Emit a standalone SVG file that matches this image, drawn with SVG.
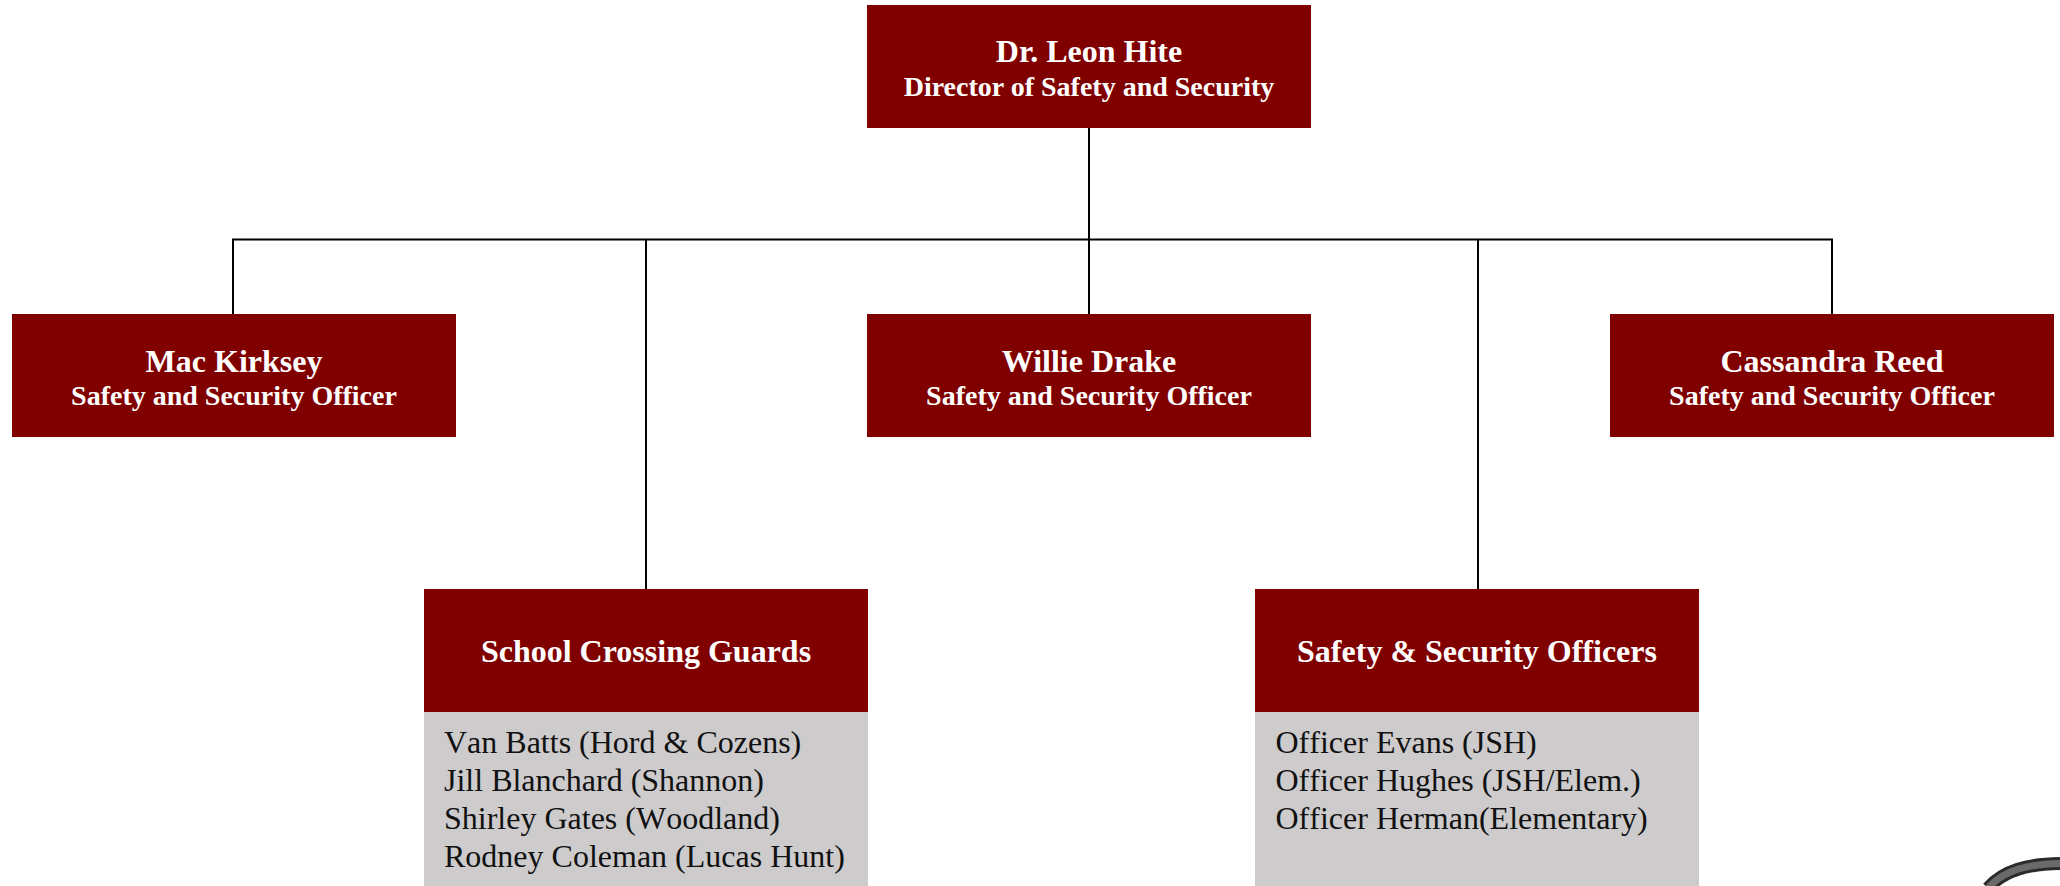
<svg xmlns="http://www.w3.org/2000/svg" width="2060" height="886" viewBox="0 0 2060 886">
<style>
text{font-family:"Liberation Serif","Times New Roman",serif}
.b{fill:#800000}
.g{fill:#cdcbcc}
.n{font-size:32px;font-weight:bold;fill:#fff;text-anchor:middle}
.r{font-size:28px;font-weight:bold;fill:#fff;text-anchor:middle}
.h{font-size:32px;font-weight:bold;fill:#fff;text-anchor:middle}
.l{font-size:32px;fill:#111;font-kerning:none}
.c{stroke:#000;stroke-width:2;fill:none}
</style>
<rect width="2060" height="886" fill="#fff"/>
<g id="connectors">
<path class="c" d="M1089 128V314M233 314V239.500H1832V314M646 239.500V589M1478 239.500V589"/>
</g>
<g id="director"><rect class="b" x="867" y="5" width="444" height="123"/><text class="n" x="1089" y="62">Dr. Leon Hite</text><text class="r" x="1089" y="96">Director of Safety and Security</text></g>
<g id="mac-kirksey"><rect class="b" x="12" y="314" width="444" height="123"/><text class="n" x="234" y="371.500">Mac Kirksey</text><text class="r" x="234" y="405">Safety and Security Officer</text></g>
<g id="willie-drake"><rect class="b" x="867" y="314" width="444" height="123"/><text class="n" x="1089" y="371.500">Willie Drake</text><text class="r" x="1089" y="405">Safety and Security Officer</text></g>
<g id="cassandra-reed"><rect class="b" x="1610" y="314" width="444" height="123"/><text class="n" x="1832" y="371.500">Cassandra Reed</text><text class="r" x="1832" y="405">Safety and Security Officer</text></g>
<g id="crossing-guards"><rect class="g" x="424" y="712" width="444" height="174"/><rect class="b" x="424" y="589" width="444" height="123"/><text class="h" x="646" y="662">School Crossing Guards</text>
<text class="l" x="444" y="752.500">Van Batts (Hord &amp; Cozens)</text><text class="l" x="444" y="790.500">Jill Blanchard (Shannon)</text><text class="l" x="444" y="828.500">Shirley Gates (Woodland)</text><text class="l" x="444" y="867">Rodney Coleman (Lucas Hunt)</text></g>
<g id="safety-officers"><rect class="g" x="1255" y="712" width="444" height="174"/><rect class="b" x="1255" y="589" width="444" height="123"/><text class="h" x="1477" y="662">Safety &amp; Security Officers</text>
<text class="l" x="1275.500" y="752.500">Officer Evans (JSH)</text><text class="l" x="1275.500" y="790.500">Officer Hughes (JSH/Elem.)</text><text class="l" x="1275.500" y="828.500">Officer Herman(Elementary)</text></g>
<g id="emblem-arc" fill="none"><path d="M1988 888C2004 870 2028 864 2060 863.500" stroke="#2b2b2b" stroke-width="13"/><path d="M1988 888C2004 870 2028 864 2060 863.500" stroke="#6a6a6a" stroke-width="7"/></g>
</svg>
